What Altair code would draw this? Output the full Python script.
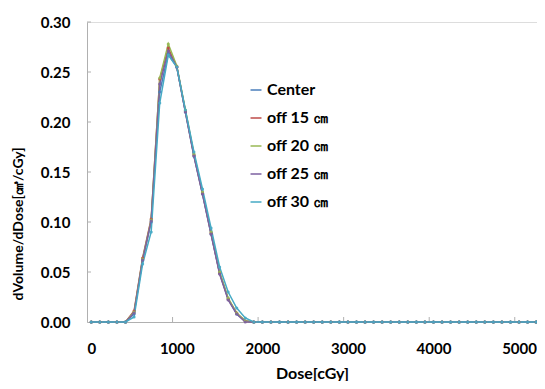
import altair as alt
import pandas as pd

doses = list(range(0, 5300, 100))

center = [0, 0, 0, 0, 0, 0.008, 0.062, 0.100, 0.230, 0.268, 0.255, 0.210, 0.166, 0.128, 0.088,
          0.049, 0.023, 0.008, 0.001, 0, 0, 0, 0, 0, 0, 0, 0, 0, 0, 0, 0, 0, 0, 0, 0, 0, 0, 0, 0, 0,
          0, 0, 0, 0, 0, 0, 0, 0, 0, 0, 0, 0, 0]
off15 = [0, 0, 0, 0, 0, 0.011, 0.064, 0.103, 0.243, 0.274, 0.255, 0.211, 0.167, 0.129, 0.089,
         0.049, 0.023, 0.009, 0.001, 0, 0, 0, 0, 0, 0, 0, 0, 0, 0, 0, 0, 0, 0, 0, 0, 0, 0, 0, 0, 0,
         0, 0, 0, 0, 0, 0, 0, 0, 0, 0, 0, 0, 0]
off20 = [0, 0, 0, 0, 0, 0.010, 0.063, 0.102, 0.244, 0.278, 0.256, 0.212, 0.168, 0.130, 0.090,
         0.050, 0.024, 0.009, 0.001, 0, 0, 0, 0, 0, 0, 0, 0, 0, 0, 0, 0, 0, 0, 0, 0, 0, 0, 0, 0, 0,
         0, 0, 0, 0, 0, 0, 0, 0, 0, 0, 0, 0, 0]
off25 = [0, 0, 0, 0, 0, 0.009, 0.062, 0.101, 0.238, 0.271, 0.255, 0.210, 0.166, 0.128, 0.088,
         0.048, 0.022, 0.008, 0.000, 0, 0, 0, 0, 0, 0, 0, 0, 0, 0, 0, 0, 0, 0, 0, 0, 0, 0, 0, 0, 0,
         0, 0, 0, 0, 0, 0, 0, 0, 0, 0, 0, 0, 0]
off30 = [0, 0, 0, 0, 0, 0.005, 0.058, 0.090, 0.219, 0.267, 0.255, 0.212, 0.170, 0.133, 0.094,
         0.055, 0.030, 0.014, 0.004, 0, 0, 0, 0, 0, 0, 0, 0, 0, 0, 0, 0, 0, 0, 0, 0, 0, 0, 0, 0, 0,
         0, 0, 0, 0, 0, 0, 0, 0, 0, 0, 0, 0, 0]

series_names = ["Center", "off 15 ㎝", "off 20 ㎝", "off 25 ㎝", "off 30 ㎝"]
series_values = [center, off15, off20, off25, off30]
series_colors = ["#4A7EBB", "#BE4B48", "#98B954", "#7D60A0", "#46AAC5"]

x_label_values = [0, 1000, 2000, 3000, 4000, 5000]
y_label_values = [0, 0.05, 0.10, 0.15, 0.20, 0.25, 0.30]
tick_positions = [950, 1950, 2950, 3950, 4950]

rows = []
for order, (name, vals) in enumerate(zip(series_names, series_values)):
    for d, v in zip(doses, vals):
        rows.append({"series": name, "dose": d, "value": v, "order": order})
df = pd.DataFrame(rows)

FONT = "Lato"

xscale = alt.Scale(domain=[-50, 5210], nice=False, zero=False)
yscale = alt.Scale(domain=[0, 0.30], nice=False)
color = alt.Color("series:N", scale=alt.Scale(domain=series_names, range=series_colors),
                  sort=series_names,
                  legend=alt.Legend(title=None, orient="none", legendX=161, legendY=60,
                                    symbolType="stroke", symbolSize=120, symbolStrokeWidth=1.5,
                                    labelFont=FONT, labelFontSize=16, labelFontWeight="bold",
                                    labelColor="black", rowPadding=12, labelOffset=3))

x_enc = alt.X("dose:Q", scale=xscale,
              axis=alt.Axis(values=x_label_values, format="d", title="Dose[cGy]", ticks=False,
                            grid=False, labelFont=FONT, labelFontSize=15, labelFontWeight="bold",
                            labelColor="black", labelPadding=19, domainColor="#b0b0b0",
                            titleFont=FONT, titleFontSize=16, titleFontWeight="bold",
                            titleColor="black", titlePadding=9, labelFlush=False))
y_enc = alt.Y("value:Q", scale=yscale,
              axis=alt.Axis(values=y_label_values, format=".2f",
                            title="dVolume/dDose[㎤/cGy]", ticks=False, grid=False,
                            labelFont=FONT, labelFontSize=15, labelFontWeight="bold",
                            labelColor="black", labelPadding=17, domainColor="#b0b0b0",
                            titleFont=FONT, titleFontSize=14, titleFontWeight="bold",
                            titleColor="black", titleAnchor="start", titleAlign="left",
                            titleX=-69, titleY=278, titleAngle=270, titleBaseline="middle"))

lines = alt.Chart(df).mark_line(strokeWidth=1.5).encode(
    x=x_enc, y=y_enc, color=color, order=alt.Order("dose:Q"), detail="series:N"
)
points = alt.Chart(df).mark_point(filled=True, size=10, opacity=0.9).encode(
    x="dose:Q", y="value:Q",
    color=alt.Color("series:N", scale=alt.Scale(domain=series_names, range=series_colors), legend=None),
)
xticks = alt.Chart(pd.DataFrame({"t": tick_positions})).mark_rule(color="#b0b0b0").encode(
    x=alt.X("t:Q", scale=xscale), y=alt.value(295), y2=alt.value(300)
)
yticks = alt.Chart(pd.DataFrame({"t": y_label_values[1:]})).mark_rule(color="#b0b0b0").encode(
    y=alt.Y("t:Q", scale=yscale), x=alt.value(0), x2=alt.value(4)
)

chart = alt.layer(xticks, yticks, lines, points).properties(
    width=450, height=300,
    autosize=alt.AutoSizeParams(type="none"),
    padding={"left": 79, "top": 14, "right": 0, "bottom": 59},
).configure_view(stroke="#b0b0b0").configure(background="white")

chart.save("out.html", embed_options={"renderer": "svg", "actions": False})
